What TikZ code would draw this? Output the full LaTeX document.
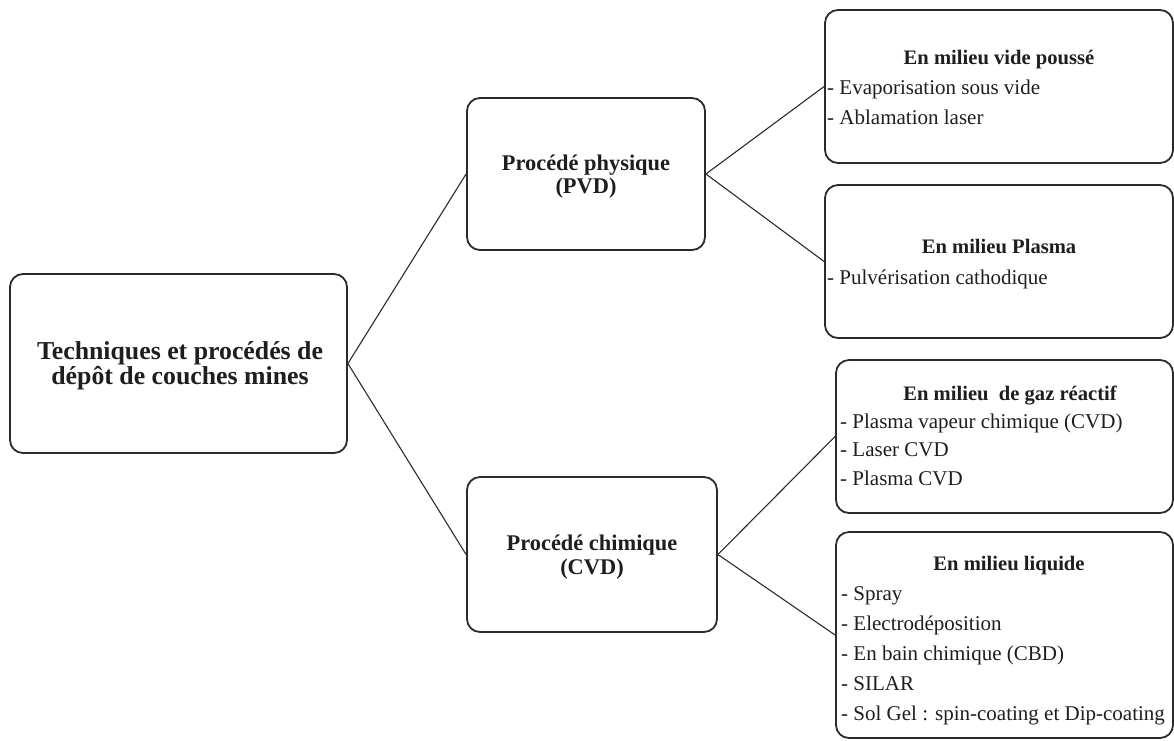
\documentclass[tikz,border=0pt]{standalone}
\usepackage{fontspec}
\setmainfont{Liberation Serif}
\definecolor{ink}{HTML}{1E1E1E}
\definecolor{edge}{HTML}{2B2B2B}
\begin{document}
\begin{tikzpicture}[x=1pt,y=-1pt,
  box/.style={draw=edge,line width=1.8pt,rounded corners=13pt,minimum width=#1,inner sep=0pt},
  conn/.style={draw=edge,line width=1.1pt},
  maintxt/.style={text=ink,inner sep=0pt,anchor=base,font=\fontsize{25.8}{25.8}\selectfont\bfseries},
  midtxt/.style={text=ink,inner sep=0pt,anchor=base,font=\fontsize{22.4}{22.4}\selectfont\bfseries},
  ttl/.style={text=ink,inner sep=0pt,anchor=base,font=\fontsize{20.6}{20.6}\selectfont\bfseries},
  item/.style={text=ink,inner sep=0pt,anchor=base west,font=\fontsize{21}{21}\selectfont}]
\useasboundingbox (0,0) rectangle (1174,740);
% boxes
\node[box=337pt,minimum height=179pt] (main) at (178.5,363.5) {};
\node[box=238pt,minimum height=152pt] (pvd) at (586,174) {};
\node[box=250pt,minimum height=155pt] (cvd) at (592,554.5) {};
\node[box=348pt,minimum height=153pt] (b4) at (999,86.5) {};
\node[box=348pt,minimum height=153pt] (b5) at (999,261.5) {};
\node[box=337pt,minimum height=153pt] (b6) at (1004.5,436.5) {};
\node[box=337pt,minimum height=206pt] (b7) at (1004.5,635) {};
% connectors
\draw[conn] (main.east) -- (pvd.west);
\draw[conn] (main.east) -- (cvd.west);
\draw[conn] (pvd.east) -- (b4.west);
\draw[conn] (pvd.east) -- (b5.west);
\draw[conn] (cvd.east) -- (b6.west);
\draw[conn] (cvd.east) -- (b7.west);
% main texts
\node[maintxt] (m1) at (180,359) {Techniques et procédés de};
\node[maintxt] (m2) at (180,384) {dépôt de couches mines};
\node[midtxt] (p1) at (586,170) {Procédé physique};
\node[midtxt] (p2) at (586,193) {(PVD)};
\node[midtxt] (c1) at (592,550) {Procédé chimique};
\node[midtxt] (c2) at (592,574) {(CVD)};
% box 4
\node[ttl] (t4) at (999,64) {En milieu vide poussé};
\node[item] (i41) at (827,94) {- Evaporisation sous vide};
\node[item] (i42) at (827,124) {- Ablamation laser};
% box 5
\node[ttl] (t5) at (999,253) {En milieu Plasma};
\node[item] (i51) at (827,284) {- Pulvérisation cathodique};
% box 6
\node[ttl] (t6) at (1010,400) {En milieu\ \ de gaz réactif};
\node[item] (i61) at (840,428) {- Plasma vapeur chimique (CVD)};
\node[item] (i62) at (840,456) {- Laser CVD};
\node[item] (i63) at (840,485) {- Plasma CVD};
% box 7
\node[ttl] (t7) at (1009,570) {En milieu liquide};
\node[item] (i71) at (841,600) {- Spray};
\node[item] (i72) at (841,630) {- Electrodéposition};
\node[item] (i73) at (841,660) {- En bain chimique (CBD)};
\node[item] (i74) at (841,690) {- SILAR};
\node[item] (i75) at (841,720) {- Sol Gel : spin-coating et Dip-coating};
\end{tikzpicture}
\end{document}
